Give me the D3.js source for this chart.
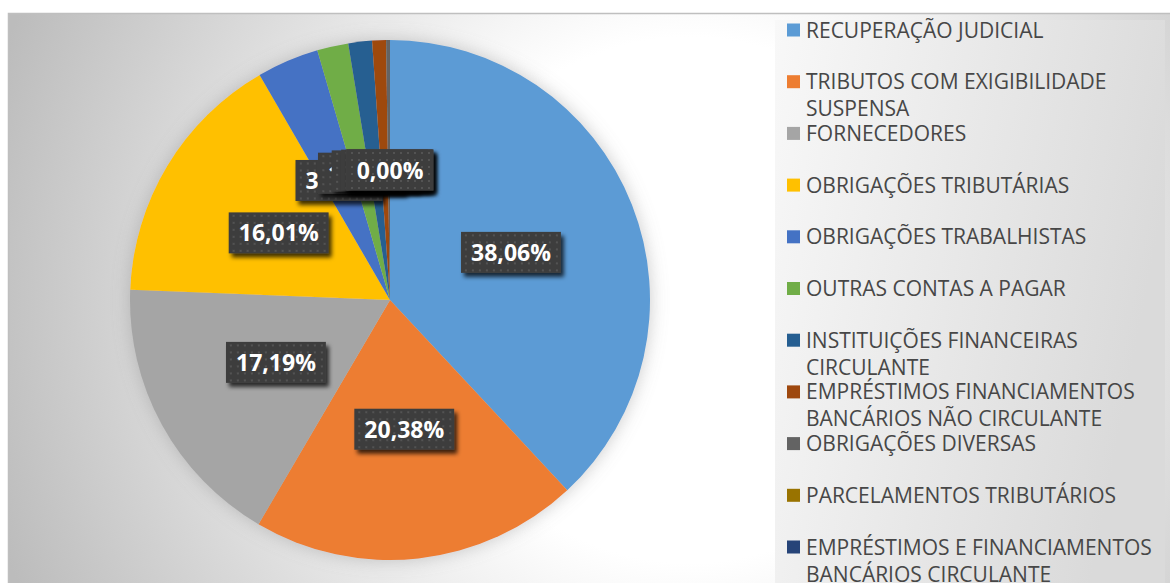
<!DOCTYPE html>
<html>
<head>
<meta charset="utf-8">
<script src="https://cdn.jsdelivr.net/npm/d3@7"></script>
<style>
  html, body { margin: 0; padding: 0; background: #fff; }
  svg { display: block; }
</style>
</head>
<body>
<div id="chart"></div>
<script>
// ── Data ──
const categories = [
  ['RECUPERAÇÃO JUDICIAL'],
  ['TRIBUTOS COM EXIGIBILIDADE', 'SUSPENSA'],
  ['FORNECEDORES'],
  ['OBRIGAÇÕES TRIBUTÁRIAS'],
  ['OBRIGAÇÕES TRABALHISTAS'],
  ['OUTRAS CONTAS A PAGAR'],
  ['INSTITUIÇÕES FINANCEIRAS', 'CIRCULANTE'],
  ['EMPRÉSTIMOS FINANCIAMENTOS', 'BANCÁRIOS NÃO CIRCULANTE'],
  ['OBRIGAÇÕES DIVERSAS'],
  ['PARCELAMENTOS TRIBUTÁRIOS'],
  ['EMPRÉSTIMOS E FINANCIAMENTOS', 'BANCÁRIOS CIRCULANTE']
];
const shares = [38.06, 20.38, 17.19, 16.01, 3.85, 1.94, 1.47, 0.86, 0.24, 0.00, 0.00];
const colors = ['#5b9bd5', '#ed7d31', '#a5a5a5', '#ffc000', '#4472c4', '#70ad47',
                '#255e91', '#9e480e', '#636363', '#997300', '#264478'];

const W = 1170, H = 583;
const cx = 390, cy = 300, R = 260;

const svg = d3.select('#chart').append('svg')
  .attr('width', W).attr('height', H);

const defs = svg.append('defs');

// chart area background
const bg = defs.append('radialGradient').attr('id', 'bg')
  .attr('gradientUnits', 'userSpaceOnUse')
  .attr('cx', 690).attr('cy', 300).attr('r', 730);
bg.append('stop').attr('offset', 0).attr('stop-color', '#ffffff');
bg.append('stop').attr('offset', 0.36).attr('stop-color', '#ffffff');
bg.append('stop').attr('offset', 1).attr('stop-color', '#bcbcbc');

const lg = defs.append('linearGradient').attr('id', 'legbg')
  .attr('x1', 0).attr('y1', 0).attr('x2', 1).attr('y2', 0.3);
lg.append('stop').attr('offset', 0).attr('stop-color', '#f8f8f8');
lg.append('stop').attr('offset', 1).attr('stop-color', '#dadada');

// soft glow around the pie
const glow = defs.append('filter').attr('id', 'glow')
  .attr('x', -0.2).attr('y', -0.2).attr('width', 1.4).attr('height', 1.4);
glow.append('feDropShadow').attr('dx', 0).attr('dy', 0)
  .attr('stdDeviation', 9).attr('flood-color', '#8a8a8a').attr('flood-opacity', 0.45);

// label shadow
const shadow = defs.append('filter').attr('id', 'shadow')
  .attr('x', -0.3).attr('y', -0.3).attr('width', 1.6).attr('height', 1.6);
shadow.append('feDropShadow').attr('dx', 3).attr('dy', 4)
  .attr('stdDeviation', 2.2).attr('flood-color', '#000').attr('flood-opacity', 0.75);

// dotted label fill
const pat = defs.append('pattern').attr('id', 'dots')
  .attr('patternUnits', 'userSpaceOnUse').attr('width', 7).attr('height', 7);
pat.append('rect').attr('width', 7).attr('height', 7).attr('fill', '#3e3e3e');
pat.append('rect').attr('x', 3).attr('y', 3).attr('width', 2).attr('height', 2).attr('fill', '#525252');

svg.append('rect')
  .attr('x', 8.5).attr('y', 13.5).attr('width', 1200).attr('height', 620)
  .attr('fill', 'url(#bg)').attr('stroke', '#bfbfbf').attr('stroke-width', 1.5);

// ── Pie ──
const pie = d3.pie().sort(null).value(d => d);
const arcs = pie(shares);
const arc = d3.arc().innerRadius(0).outerRadius(R);

const g = svg.append('g').attr('transform', `translate(${cx},${cy})`);
g.append('g').attr('filter', 'url(#glow)')
  .selectAll('path').data(arcs).enter().append('path')
  .attr('d', arc)
  .attr('fill', (d, i) => colors[i]);

// ── Data labels ──
const fmt = v => d3.format('.2f')(v).replace('.', ',') + '%';
arcs.forEach((d, i) => {
  const [x, y] = arc.centroid(d);
  const lab = g.append('g').attr('transform', `translate(${x},${y})`);
  const box = lab.append('rect').attr('fill', 'url(#dots)').attr('filter', 'url(#shadow)');
  const t = lab.append('text')
    .attr('text-anchor', 'middle').attr('y', 8.5)
    .attr('fill', '#fff')
    .style('font-family', '"Open Sans", sans-serif')
    .style('font-weight', 700).style('font-size', '23px')
    .text(fmt(shares[i]));
  const w = t.node().getComputedTextLength() + 20;
  box.attr('x', -w / 2).attr('y', -20.5).attr('width', w).attr('height', 41);
});

// ── Legend ──
svg.append('rect')
  .attr('x', 775).attr('y', 20).attr('width', 390).attr('height', 600)
  .attr('fill', 'url(#legbg)');

const legend = svg.append('g').attr('transform', 'translate(787, 30)');
categories.forEach((lines, i) => {
  const y = i * 51.7;
  legend.append('rect').attr('x', 0).attr('y', y - 6.5)
    .attr('width', 13).attr('height', 13).attr('fill', colors[i]);
  lines.forEach((ln, j) => {
    legend.append('text')
      .attr('x', 19).attr('y', y + 7.5 + j * 27)
      .attr('fill', '#474747')
      .style('font-family', '"Open Sans", sans-serif')
      .style('font-size', '21px')
      .text(ln);
  });
});
</script>
</body>
</html>
